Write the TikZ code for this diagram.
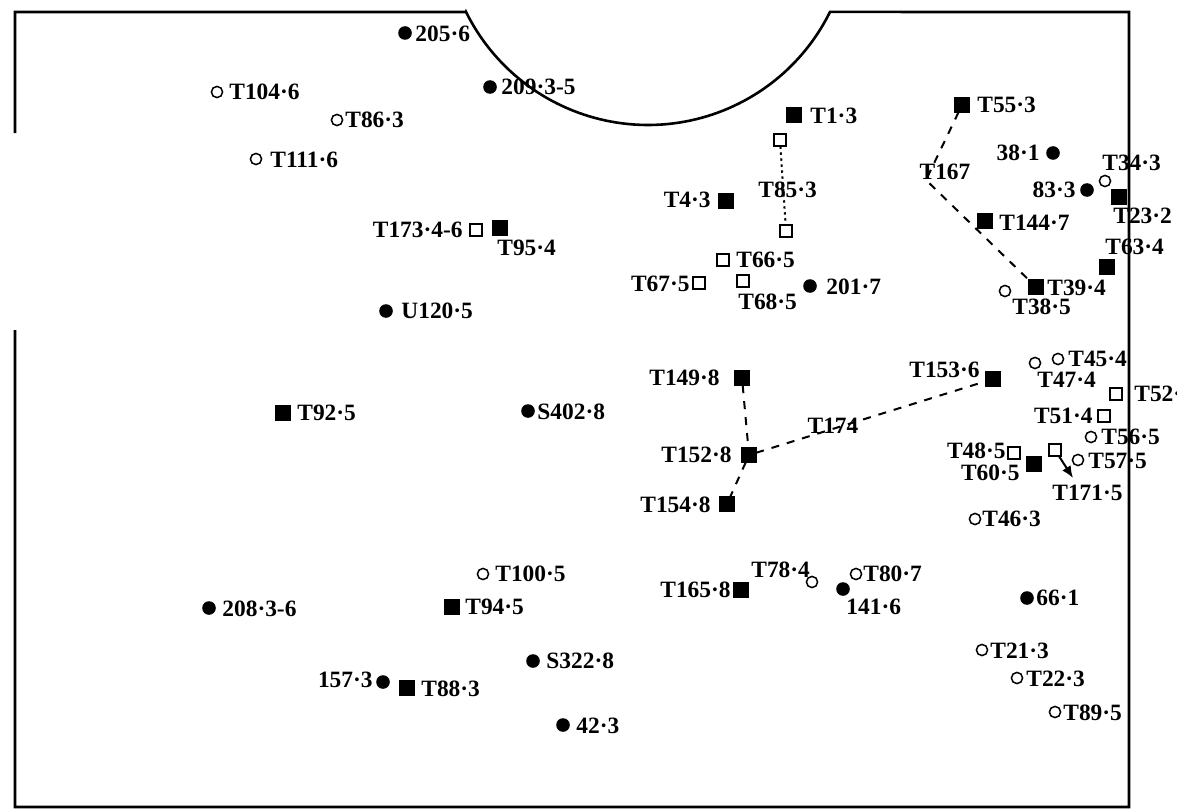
\documentclass[tikz,border=0pt]{standalone}
\usepackage{fontspec}
\setmainfont{Liberation Serif}
\usetikzlibrary{arrows.meta}
\begin{document}
\begin{tikzpicture}[x=0.5pt,y=-0.5pt,
  fsq/.style={draw=black,fill=black,minimum size=7.2pt,inner sep=0pt,outer sep=0pt},
  osq/.style={draw=black,fill=white,line width=1pt,minimum size=6.4pt,inner sep=0pt,outer sep=0pt},
  fdot/.style={circle,fill=black,minimum size=6.8pt,inner sep=0pt,outer sep=0pt},
  odot/.style={circle,draw=black,fill=white,line width=0.75pt,minimum size=5.6pt,inner sep=0pt,outer sep=0pt},
  lab/.style={font=\fontsize{11.7}{13}\selectfont\bfseries,inner sep=0pt},
  lw/.style={lab,anchor=west},
  le/.style={lab,anchor=east},
  dsh/.style={line width=1pt,dash pattern=on 4pt off 4pt},
  dtt/.style={line width=1pt,dash pattern=on 1.2pt off 1.8pt}]
\useasboundingbox (0,0) rectangle (1177,808);
% outline with cut-out
\draw[line width=1.3pt] (15,133) -- (15,12) -- (466,12)
  -- plot[domain=153.7:26.3,samples=80] ({648+203*cos(\x)},{-78+203*sin(\x)})
  -- (1129,12) -- (1129,807) -- (15,807) -- (15,330);

% filled circles
\node[fdot] (p2056) at (405,33) {};   \node[lw] (l2056) at (415,34) {205·6};
\node[fdot] (p2093) at (490,87) {};   \node[lw] (l2093) at (501,87) {209·3-5};
\node[fdot] (pU120) at (386,311) {};  \node[lw] (lU120) at (401,311) {U120·5};
\node[fdot] (pS402) at (528,411) {};  \node[lw] (lS402) at (537,412) {S402·8};
\node[fdot] (p2083) at (209,608) {};  \node[lw] (l2083) at (222,609) {208·3-6};
\node[fdot] (pS322) at (533,661) {};  \node[lw] (lS322) at (546,661) {S322·8};
\node[fdot] (p1573) at (383,682) {};  \node[le] (l1573) at (373,680) {157·3};
\node[fdot] (p423) at (563,725) {};   \node[lw] (l423) at (576,726) {42·3};
\node[fdot] (p2017) at (810,286) {};  \node[lw] (l2017) at (826,287) {201·7};
\node[fdot] (p381) at (1053,153) {};  \node[le] (l381) at (1040,153) {38·1};
\node[fdot] (p833) at (1087,190) {};  \node[le] (l833) at (1076,190) {83·3};
\node[fdot] (p1416) at (843,589) {};  \node[lw] (l1416) at (846,607) {141·6};
\node[fdot] (p661) at (1027,598) {};  \node[lw] (l661) at (1036,598) {66·1};

% open circles
\node[odot] (pT104) at (217,92) {};   \node[lw] (lT104) at (229,92) {T104·6};
\node[odot] (pT86) at (337,120) {};   \node[lw] (lT86) at (345,120) {T86·3};
\node[odot] (pT111) at (256,159) {};  \node[lw] (lT111) at (270,160) {T111·6};
\node[odot] (pT34) at (1105,181) {};  \node[lw] (lT34) at (1102,163) {T34·3};
\node[odot] (pT38) at (1005,291) {};  \node[lw] (lT38) at (1012,307) {T38·5};
\node[odot] (pT45) at (1058,359) {};  \node[lw] (lT45) at (1068,359) {T45·4};
\node[odot] (pT47) at (1035,363) {};  \node[lw] (lT47) at (1037,380) {T47·4};
\node[odot] (pT56) at (1091,437) {};  \node[lw] (lT56) at (1101,437) {T56·5};
\node[odot] (pT57) at (1078,460) {};  \node[lw] (lT57) at (1088,461) {T57·5};
\node[odot] (pT46) at (975,519) {};   \node[lw] (lT46) at (982,519) {T46·3};
\node[odot] (pT100) at (483,574) {};  \node[lw] (lT100) at (495,574) {T100·5};
\node[odot] (pT78) at (812,582) {};   \node[lw] (lT78) at (751,570) {T78·4};
\node[odot] (pT80) at (856,574) {};   \node[lw] (lT80) at (863,574) {T80·7};
\node[odot] (pT21) at (982,650) {};   \node[lw] (lT21) at (990,651) {T21·3};
\node[odot] (pT22) at (1017,678) {};  \node[lw] (lT22) at (1026,679) {T22·3};
\node[odot] (pT89) at (1055,712) {};  \node[lw] (lT89) at (1063,713) {T89·5};

% filled squares
\node[fsq] (sT1) at (794,115) {};     \node[lw] (lT1) at (810,116) {T1·3};
\node[fsq] (sT4) at (726,201) {};     \node[le] (lT4) at (711,200) {T4·3};
\node[fsq] (sT95) at (500,228) {};    \node[lw] (lT95) at (497,248) {T95·4};
\node[fsq] (sT55) at (962,105) {};    \node[lw] (lT55) at (977,105) {T55·3};
\node[fsq] (sT144) at (985,221) {};   \node[lw] (lT144) at (999,223) {T144·7};
\node[fsq] (sT23) at (1119,197) {};   \node[lw] (lT23) at (1113,216) {T23·2};
\node[fsq] (sT63) at (1107,267) {};   \node[lw] (lT63) at (1105,247) {T63·4};
\node[fsq] (sT39) at (1036,287) {};   \node[lw] (lT39) at (1047,288) {T39·4};
\node[fsq] (sT149) at (742,378) {};   \node[le] (lT149) at (720,378) {T149·8};
\node[fsq] (sT153) at (993,379) {};   \node[le] (lT153) at (980,370) {T153·6};
\node[fsq] (sT152) at (749,455) {};   \node[le] (lT152) at (732,455) {T152·8};
\node[fsq] (sT154) at (727,504) {};   \node[le] (lT154) at (711,505) {T154·8};
\node[fsq] (sT60) at (1034,464) {};   \node[le] (lT60) at (1020,473) {T60·5};
\node[fsq] (sT92) at (283,413) {};    \node[lw] (lT92) at (297,413) {T92·5};
\node[fsq] (sT94) at (452,607) {};    \node[lw] (lT94) at (465,607) {T94·5};
\node[fsq] (sT88) at (407,688) {};    \node[lw] (lT88) at (421,689) {T88·3};
\node[fsq] (sT165) at (741,590) {};   \node[le] (lT165) at (731,590) {T165·8};

% open squares
\node[osq] (sT85a) at (780,140) {};
\node[osq] (sT85b) at (786,231) {};   \node[lw] (lT85) at (758,190) {T85·3};
\node[osq] (sT66) at (723,260) {};    \node[lw] (lT66) at (736,260) {T66·5};
\node[osq] (sT67) at (699,283) {};    \node[le] (lT67) at (690,284) {T67·5};
\node[osq] (sT68) at (743,281) {};    \node[lw] (lT68) at (738,302) {T68·5};
\node[osq] (sT173) at (476,230) {};   \node[le] (lT173) at (463,230) {T173·4-6};
\node[osq] (sT52) at (1116,394) {};   \node[lw] (lT52) at (1134,394) {T52·};
\node[osq] (sT51) at (1104,416) {};   \node[le] (lT51) at (1093,416) {T51·4};
\node[osq] (sT48) at (1014,453) {};   \node[le] (lT48) at (1006,451) {T48·5};
\node[osq] (sT171) at (1055,450) {};  \node[lw] (lT171) at (1052,493) {T171·5};

% connectors
\draw[dtt] (sT85a) -- (sT85b);
\coordinate (c167) at (926,180);
\draw[dsh] (sT55) -- (c167) -- (sT39);
\node[lab] (lT167) at (945,172) {T167};
\draw[dsh] (sT149) -- (sT152);
\draw[dsh] (sT152) -- (sT154);
\draw[dsh] (sT152) -- (sT153);
\node[lab] (lT174) at (833,426) {T174};
\coordinate (c171) at (1073,478);
\draw[line width=1pt,-{Latex[length=6pt,width=5pt]}] (sT171) -- (c171);
\end{tikzpicture}
\end{document}
